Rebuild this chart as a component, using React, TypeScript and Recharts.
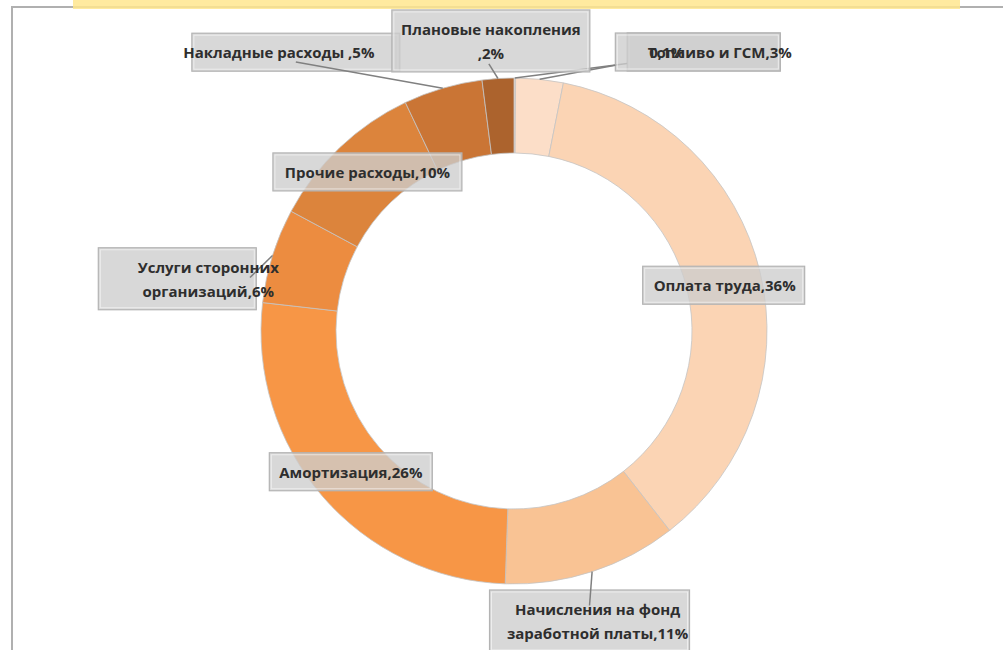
import React from "react";
import { PieChart, Pie, Cell } from "recharts";

// slices clockwise from 12 o'clock
const names = [
    "",
    "Топливо и ГСМ",
    "Оплата труда",
    "Начисления на фонд заработной платы",
    "Амортизация",
    "Услуги сторонних организаций",
    "Прочие расходы",
    "Накладные расходы ",
    "Плановые накопления ",
];
const values = [0.1, 3, 36, 11, 26, 6, 10, 5, 2];

const colors = [
    "#FCE4D2",
    "#FCDEC8",
    "#FBD4B4",
    "#F9C394",
    "#F79646",
    "#EC8C40",
    "#DC843C",
    "#CA7535",
    "#AC632D",
];

// label boxes: offset from the middle of the ring at the slice angle
type LabelLayout = {
    dx: number;
    dy: number;
    w: number;
    h: number;
    textDx: number;
    maxChars: number;
    anchor?: [number, number];
};
const labelLayout: LabelLayout[] = [
    { dx: 189, dy: -63.5, w: 153, h: 38, textDx: -37, maxChars: 30, anchor: [0, 0.8] },
    { dx: 162, dy: -64.6, w: 165, h: 38, textDx: 22, maxChars: 30, anchor: [0, 0.85] },
    { dx: 0, dy: 4, w: 162, h: 38, textDx: 1, maxChars: 30 },
    { dx: 9, dy: 85, w: 200, h: 62, textDx: 8, maxChars: 20, anchor: [0.5, 0.25] },
    { dx: 0, dy: 0, w: 163, h: 38, textDx: 0, maxChars: 30 },
    { dx: -131, dy: 12, w: 158, h: 62, textDx: 31, maxChars: 18, anchor: [0.96, 0.48] },
    { dx: 2, dy: -3, w: 189, h: 38, textDx: 0, maxChars: 30 },
    { dx: -157.5, dy: -72, w: 208, h: 38, textDx: -17, maxChars: 30, anchor: [0.5, 0.76] },
    { dx: -9.5, dy: -75, w: 198, h: 62, textDx: 0, maxChars: 20, anchor: [0.49, 0.87] },
];

const data = names.map((name, i) => ({ name, value: values[i] }));

const RAD = Math.PI / 180;

const fmt = (v: number) => String(v).replace(".", ",");

const wrap = (text: string, maxChars: number) => {
    const words = text.split(" ").filter((w) => w.length > 0);
    const lines: string[] = [];
    let cur = "";
    words.forEach((w) => {
        const next = cur ? cur + " " + w : w;
        if (next.length > maxChars && cur) {
            lines.push(cur);
            cur = w;
        } else {
            cur = next;
        }
    });
    if (cur) lines.push(cur);
    return lines;
};

const boxGeom = (props: any) => {
    const { cx, cy, midAngle, innerRadius, outerRadius, index } = props;
    const lay = labelLayout[index];
    const midR = (innerRadius + outerRadius) / 2;
    const bx = cx + midR * Math.cos(-midAngle * RAD) + lay.dx;
    const by = cy + midR * Math.sin(-midAngle * RAD) + lay.dy;
    return { lay, bx, by, x0: bx - lay.w / 2, y0: by - lay.h / 2 };
};

// boxes and leader lines (drawn with the coloured ring)
const renderBox = (props: any) => {
    const { cx, cy, midAngle, outerRadius, index } = props;
    const { lay, x0, y0 } = boxGeom(props);
    const ox = cx + outerRadius * Math.cos(-midAngle * RAD);
    const oy = cy + outerRadius * Math.sin(-midAngle * RAD);
    return (
        <g key={`box-${index}`}>
            <rect x={x0} y={y0} width={lay.w} height={lay.h} fill="#cdcdcd" fillOpacity={0.78} stroke="#b3b3b3" strokeWidth={1.2} />
            <rect x={x0 + 2} y={y0 + 2} width={lay.w - 4} height={lay.h - 4} fill="none" stroke="#ffffff" strokeOpacity={0.55} strokeWidth={1} />
            {lay.anchor && (
                <line
                    x1={ox}
                    y1={oy}
                    x2={x0 + lay.w * lay.anchor[0]}
                    y2={y0 + lay.h * lay.anchor[1]}
                    stroke="#808080"
                    strokeWidth={1.5}
                />
            )}
        </g>
    );
};

// texts (drawn by a second, invisible ring so they sit above every box)
const renderText = (props: any) => {
    const { index } = props;
    const { lay, bx, by } = boxGeom(props);
    const name = names[index];
    const text = name ? `${name},${fmt(values[index])}%` : `${fmt(values[index])}%`;
    const lines = wrap(text, lay.maxChars);
    const lh = 24;
    return (
        <g key={`txt-${index}`}>
            {lines.map((ln, k) => (
                <text
                    key={k}
                    x={bx + lay.textDx}
                    y={by + (k - (lines.length - 1) / 2) * lh}
                    textAnchor="middle"
                    dominantBaseline="central"
                    fontFamily="'Open Sans', sans-serif"
                    fontSize={15}
                    fontWeight={700}
                    fill="#2e2e2e"
                >
                    {ln}
                </text>
            ))}
        </g>
    );
};

const CostDonut: React.FC = () => {
    return (
        <div style={{ position: "absolute", left: 0, top: 0, width: 1003, height: 650, background: "#fff", overflow: "hidden" }}>
            <div style={{ position: "absolute", left: 11, top: 6, width: 992, height: 2, background: "#b0b0b0" }} />
            <div style={{ position: "absolute", left: 11, top: 6, width: 2, height: 644, background: "#b0b0b0" }} />
            <div style={{ position: "absolute", left: 73, top: 0, width: 887, height: 9, background: "#FFE68E", opacity: 0.85 }} />
            <div style={{ position: "absolute", left: 0, top: 0 }}>
                <PieChart width={1003} height={650} margin={{ top: 0, right: 0, bottom: 0, left: 0 }}>
                    <Pie
                        data={data}
                        dataKey="value"
                        nameKey="name"
                        cx={514}
                        cy={331}
                        innerRadius={178}
                        outerRadius={253}
                        startAngle={90}
                        endAngle={-270}
                        stroke="#c4c4c4"
                        strokeWidth={0.8}
                        label={renderBox}
                        labelLine={false}
                        isAnimationActive={false}
                    >
                        {data.map((d, i) => (
                            <Cell key={d.name + i} fill={colors[i]} />
                        ))}
                    </Pie>
                    <Pie
                        data={data}
                        dataKey="value"
                        nameKey="name"
                        cx={514}
                        cy={331}
                        innerRadius={178}
                        outerRadius={253}
                        startAngle={90}
                        endAngle={-270}
                        fill="none"
                        stroke="none"
                        label={renderText}
                        labelLine={false}
                        isAnimationActive={false}
                    />
                </PieChart>
            </div>
        </div>
    );
};

export default CostDonut;
